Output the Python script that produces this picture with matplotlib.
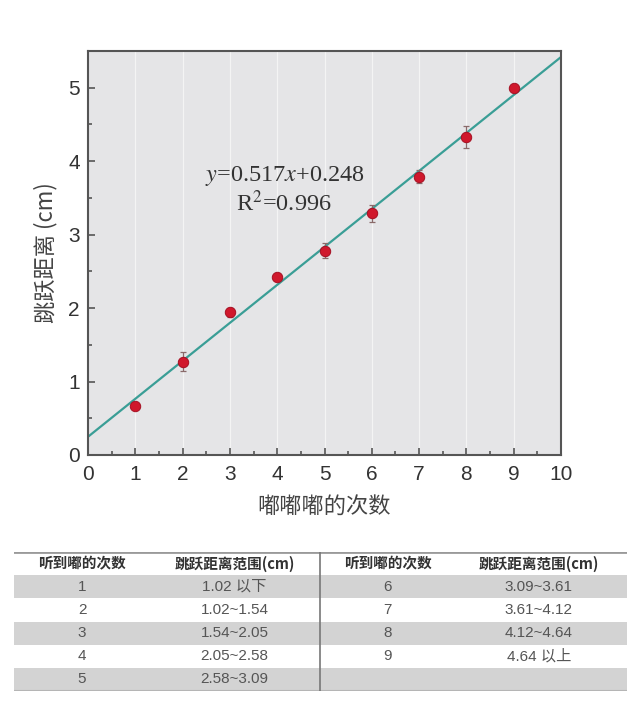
"""跳跃距离与嘟嘟嘟次数的线性关系 + 对照表"""

import matplotlib

matplotlib.use("Agg")

import matplotlib.pyplot as plt
import numpy as np
from matplotlib.ticker import MultipleLocator

plt.rcParams["font.family"] = ["Liberation Sans", "Noto Sans CJK SC"]
plt.rcParams["axes.unicode_minus"] = False

# 数据
counts = [1, 2, 3, 4, 5, 6, 7, 8, 9]
distance = [0.67, 1.27, 1.94, 2.42, 2.78, 3.29, 3.79, 4.33, 4.99]
distance_err = [0.03, 0.13, 0.06, 0.03, 0.10, 0.12, 0.09, 0.15, 0.04]
fit_slope = 0.517
fit_intercept = 0.248
fit_x = [0, 10]

# 对照表
col_headers = ["听到嘟的次数", "跳跃距离范围(cm)", "听到嘟的次数", "跳跃距离范围(cm)"]
left_counts = ["1", "2", "3", "4", "5"]
left_ranges = ["1.02 以下", "1.02~1.54", "1.54~2.05", "2.05~2.58", "2.58~3.09"]
right_counts = ["6", "7", "8", "9", ""]
right_ranges = ["3.09~3.61", "3.61~4.12", "4.12~4.64", "4.64 以上", ""]

W, H = 640, 701
fig = plt.figure(figsize=(W / 100, H / 100), dpi=100, facecolor="white")

# ---- 散点图 ----
ax = fig.add_axes([88 / W, 1 - 455 / H, (561 - 88) / W, (455 - 51) / H])
ax.set_facecolor("#e5e5e7")
ax.set_xlim(0, 10)
ax.set_ylim(0, 5.5)
for v in range(1, 10):
    ax.axvline(v, color="#f4f4f4", lw=0.9, zorder=0)

fx = np.array(fit_x, dtype=float)
ax.plot(fx, fit_slope * fx + fit_intercept, color="#3a9e96", lw=1.6, zorder=2)

ax.errorbar(counts, distance, yerr=distance_err, fmt="none", ecolor="#8a6a6a",
            elinewidth=0.9, capsize=2.5, capthick=0.9, zorder=3)
ax.plot(counts, distance, "o", ms=7.5, color="#d0182c", mec="#a50f22", mew=0.7, zorder=4)

ax.text(4.15, 3.80, r"$y$=0.517$x$+0.248", ha="center", va="center", fontsize=17.5,
        family="Liberation Serif", color="#333333", math_fontfamily="stix")
ax.text(4.15, 3.42, r"R$^2$=0.996", ha="center", va="center", fontsize=17.5,
        family="Liberation Serif", color="#333333", math_fontfamily="stix")

ax.xaxis.set_major_locator(MultipleLocator(1))
ax.xaxis.set_minor_locator(MultipleLocator(0.5))
ax.yaxis.set_major_locator(MultipleLocator(1))
ax.yaxis.set_minor_locator(MultipleLocator(0.5))
ax.tick_params(which="both", direction="in", color="#555555", width=1.2)
ax.tick_params(which="major", length=5, labelsize=15, labelcolor="#333333")
ax.tick_params(which="minor", length=3)
ax.tick_params(axis="x", pad=7)
ax.tick_params(axis="y", pad=6)
for s in ax.spines.values():
    s.set_color("#555555")
    s.set_linewidth(1.5)

ax.set_xlabel("嘟嘟嘟的次数", fontsize=16, color="#444444",
              family=["Noto Sans CJK SC", "DejaVu Sans"])
ax.set_ylabel("跳跃距离 (cm)", fontsize=16, color="#444444",
              family=["Noto Sans CJK SC", "DejaVu Sans"])
ax.xaxis.label.set_va("center")
ax.yaxis.label.set_va("center")
ax.xaxis.set_label_coords(0.5, -(506 - 455) / (455 - 51))
ax.yaxis.set_label_coords(-(88 - 46) / (561 - 88), 0.5)

# ---- 对照表 ----
tab = fig.add_axes([14 / W, 1 - 691 / H, (627 - 14) / W, (691 - 552) / H])
tab.set_xlim(0, 1)
tab.set_ylim(6, 0)
tab.axis("off")

n_rows = len(left_counts)
for i in range(n_rows):
    if i % 2 == 0:
        tab.axhspan(i + 1, i + 2, color="#d3d3d3", lw=0, zorder=0)
tab.axhline(0, color="#9a9a9a", lw=2)
tab.axhline(n_rows + 1, color="#b5b5b5", lw=1.5)
tab.plot([0.499, 0.499], [0, n_rows + 1], color="#777777", lw=1.2)

col_x = [0.111, 0.36, 0.61, 0.856]
for cx, head in zip(col_x, col_headers):
    tab.text(cx, 0.5, head, ha="center", va="center", fontsize=10.5, weight="bold",
             color="#333333", family=["Noto Sans CJK SC", "DejaVu Sans"])

columns = [left_counts, left_ranges, right_counts, right_ranges]
for cx, col in zip(col_x, columns):
    for i, val in enumerate(col):
        tab.text(cx, i + 1.5, val, ha="center", va="center", fontsize=11,
                 color="#555555", family=["Liberation Sans", "Noto Sans CJK SC"])

fig.savefig("out.png", dpi=100, facecolor="white")
